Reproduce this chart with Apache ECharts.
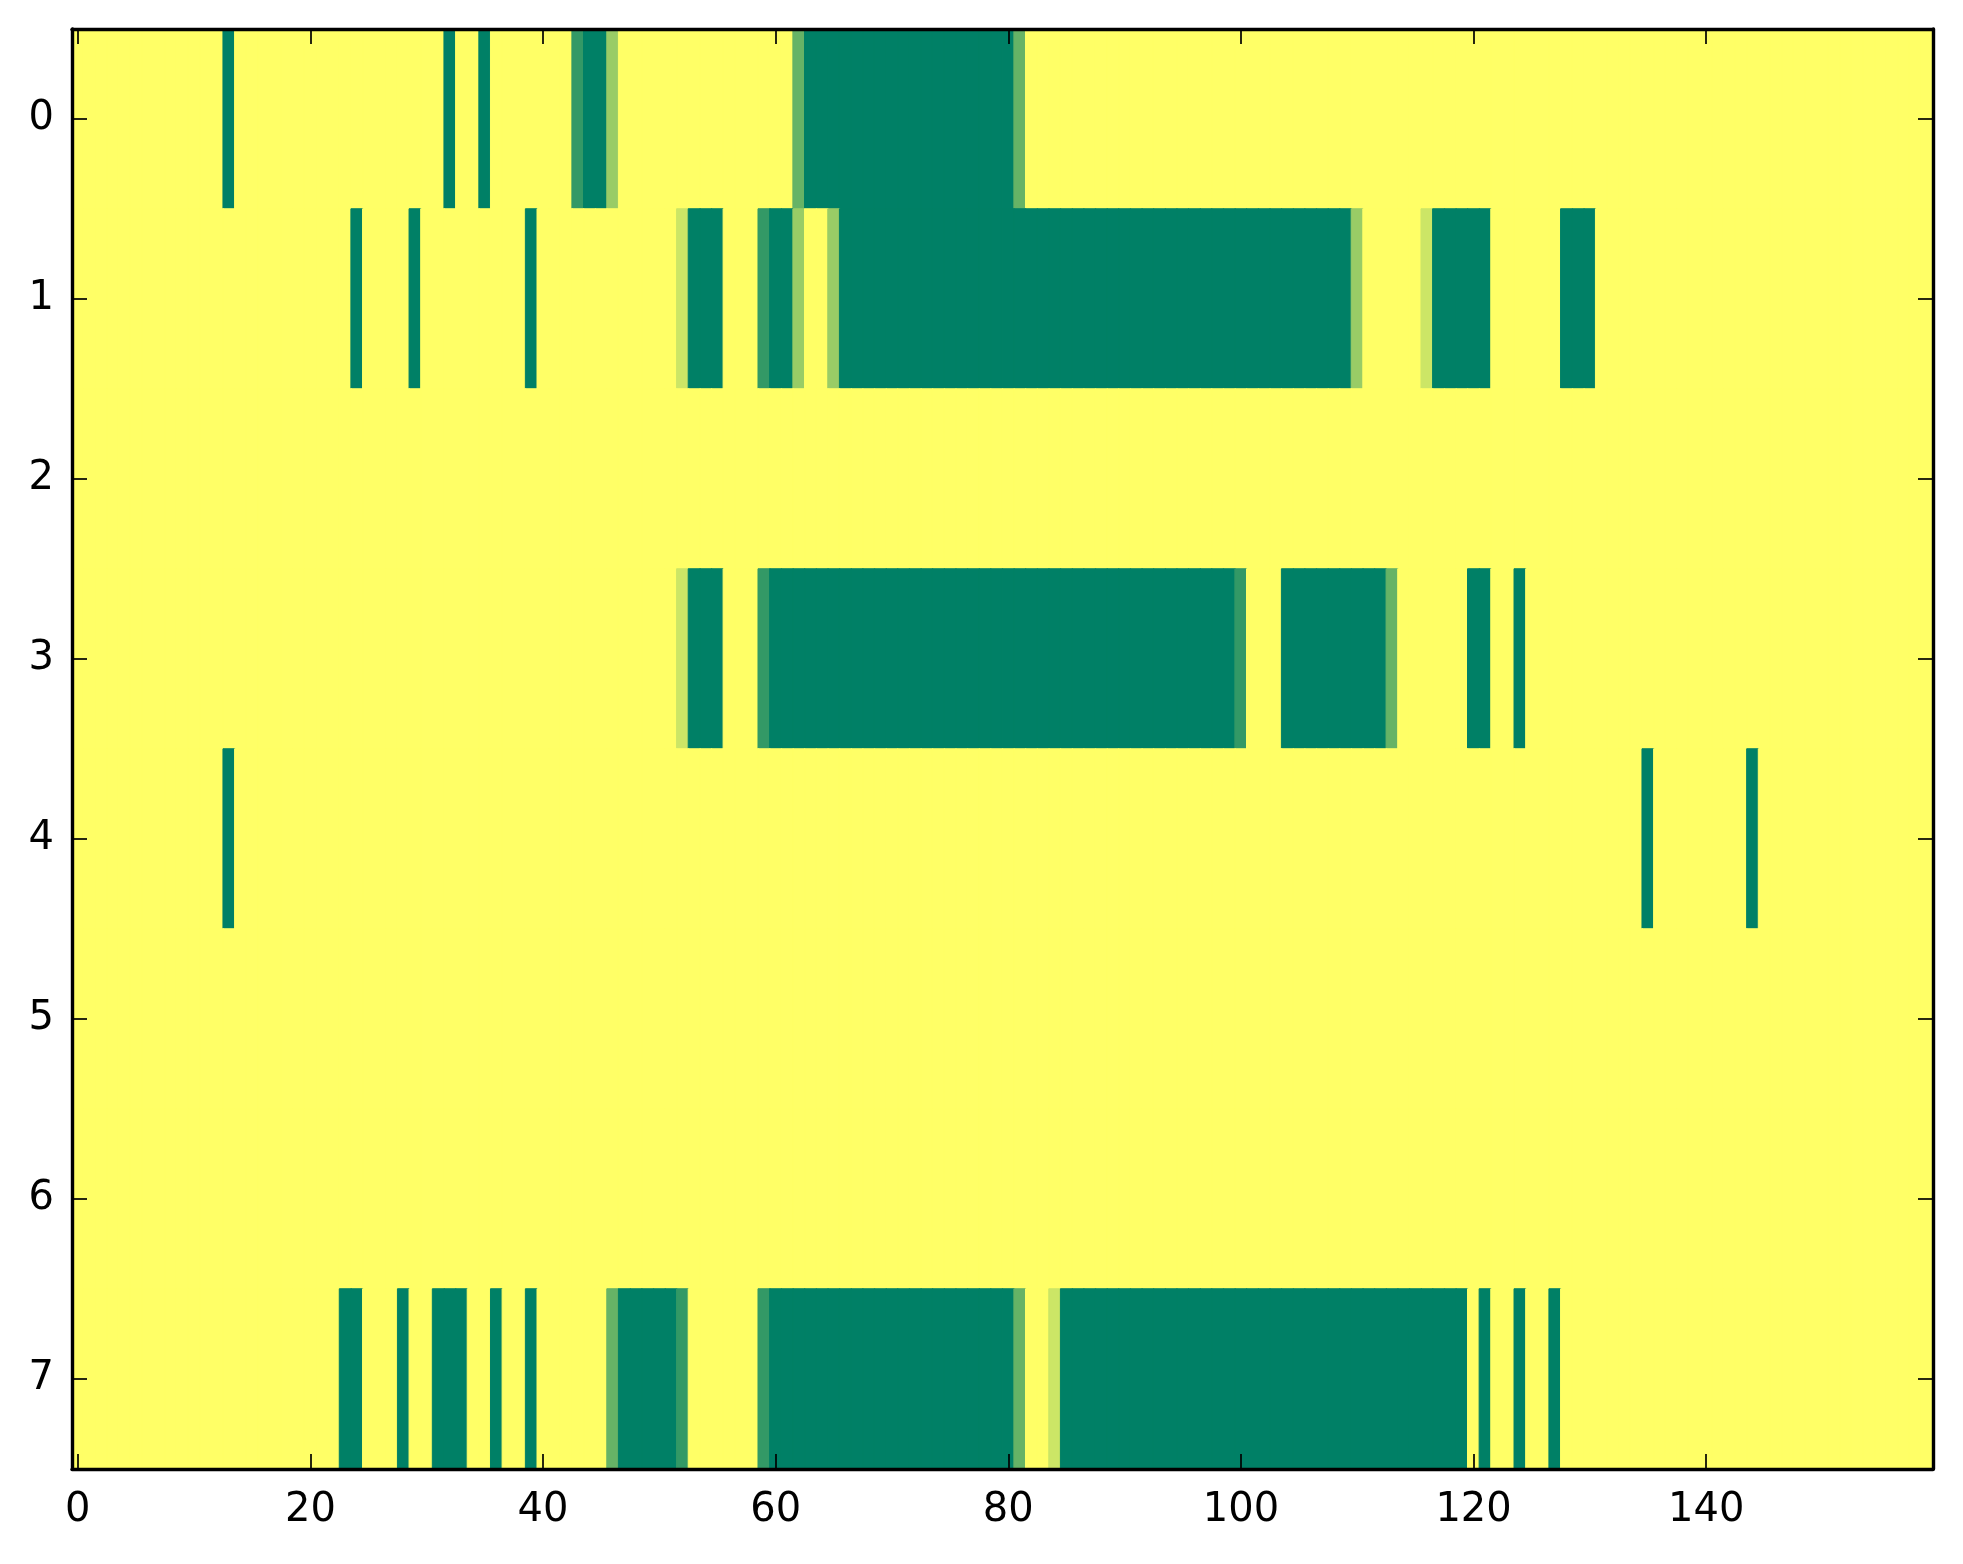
<!DOCTYPE html>
<html>
<head>
<meta charset="utf-8">
<script src="https://cdn.jsdelivr.net/npm/echarts@6/dist/echarts.min.js"></script>
<style>
  html, body { margin: 0; padding: 0; background: #ffffff; }
  #chart { width: 1963px; height: 1564px; }
</style>
</head>
<body>
<div id="chart"></div>
<script>
// Number of columns (x categories) and rows (y categories)
const columnCount = 160;
const rowLabels = ['0', '1', '2', '3', '4', '5', '6', '7'];
const xTickLabels = ['0', '20', '40', '60', '80', '100', '120', '140'];

// Cell values, as runs: [firstColumn, lastColumn, value]; all other cells are 0
const row0 = [[13,13,5],[32,32,5],[35,35,5],[43,43,4],[44,45,5],[46,46,2],[62,62,3],[63,80,5],[81,81,3]];
const row1 = [[24,24,5],[29,29,5],[39,39,5],[52,52,1],[53,55,5],[59,59,4],[60,61,5],[62,62,2],[65,65,2],[66,109,5],[110,110,2],[116,116,1],[117,121,5],[128,130,5]];
const row2 = [];
const row3 = [[52,52,1],[53,55,5],[59,59,4],[60,99,5],[100,100,4],[104,112,5],[113,113,3],[120,121,5],[124,124,5]];
const row4 = [[13,13,5],[135,135,5],[144,144,5]];
const row5 = [];
const row6 = [];
const row7 = [[23,24,5],[28,28,5],[31,33,5],[36,36,5],[39,39,5],[46,46,3],[47,51,5],[52,52,4],[59,59,4],[60,80,5],[81,81,3],[84,84,1],[85,119,5],[121,121,5],[124,124,5],[127,127,5]];

const rows = [row0, row1, row2, row3, row4, row5, row6, row7];
const valueMin = 0;
const valueMax = 5;

// summer_r colormap: low = yellow, high = green
function cmap(v) {
  const t = 1 - (v - valueMin) / (valueMax - valueMin);
  const r = Math.round(255 * t);
  const g = Math.round(255 * (0.5 + 0.5 * t));
  const b = 102;
  return 'rgb(' + r + ',' + g + ',' + b + ')';
}

const xCats = [];
for (let i = 0; i < columnCount; i++) xCats.push(String(i));

const heatData = [];
rows.forEach(function (runs, r) {
  const vals = new Array(columnCount).fill(0);
  runs.forEach(function (run) {
    for (let c = run[0]; c <= run[1]; c++) vals[c] = run[2];
  });
  vals.forEach(function (v, c) {
    const col = cmap(v);
    heatData.push({ value: [c, r, v], itemStyle: { color: col, borderColor: col, borderWidth: 1 } });
  });
});

const font = 'DejaVu Sans';
const showXTick = function (i) { return xTickLabels.indexOf(String(i)) >= 0; };

const axisLineStyle = { color: '#000000', width: 3.4 };
const tickStyle = { color: '#000000', width: 1.7 };

const chart = echarts.init(document.getElementById('chart'), null, { renderer: 'canvas' });
chart.setOption({
  backgroundColor: '#ffffff',
  animation: false,
  grid: { left: 72, right: 30, top: 29, bottom: 95, containLabel: false },
  xAxis: [
    {
      type: 'category', data: xCats, position: 'bottom', z: 10,
      axisLine: { show: true, onZero: false, lineStyle: axisLineStyle },
      axisTick: { show: true, inside: true, length: 15, alignWithLabel: true, interval: showXTick, lineStyle: tickStyle },
      axisLabel: { interval: showXTick, fontSize: 40, fontFamily: font, color: '#000000', margin: 22 },
      splitLine: { show: false }, splitArea: { show: false }
    },
    {
      type: 'category', data: xCats, position: 'top', z: 10,
      axisLine: { show: true, onZero: false, lineStyle: axisLineStyle },
      axisTick: { show: true, inside: true, length: 15, alignWithLabel: true, interval: showXTick, lineStyle: tickStyle },
      axisLabel: { show: false },
      splitLine: { show: false }, splitArea: { show: false }
    }
  ],
  yAxis: [
    {
      type: 'category', data: rowLabels, inverse: true, position: 'left', z: 10,
      axisLine: { show: true, onZero: false, lineStyle: axisLineStyle },
      axisTick: { show: true, inside: true, length: 15, alignWithLabel: true, interval: 0, lineStyle: tickStyle },
      axisLabel: { interval: 0, fontSize: 40, fontFamily: font, color: '#000000', margin: 18 },
      splitLine: { show: false }, splitArea: { show: false }
    },
    {
      type: 'category', data: rowLabels, inverse: true, position: 'right', z: 10,
      axisLine: { show: true, onZero: false, lineStyle: axisLineStyle },
      axisTick: { show: true, inside: true, length: 15, alignWithLabel: true, interval: 0, lineStyle: tickStyle },
      axisLabel: { show: false },
      splitLine: { show: false }, splitArea: { show: false }
    }
  ],
  series: [{
    type: 'heatmap',
    xAxisIndex: 0, yAxisIndex: 0,
    data: heatData,
    emphasis: { disabled: true },
    progressive: 0
  }]
});
</script>
</body>
</html>
